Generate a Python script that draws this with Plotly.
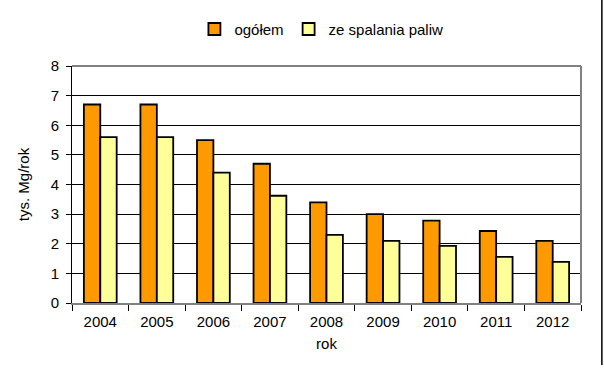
import plotly.graph_objects as go

years = ["2004", "2005", "2006", "2007", "2008", "2009", "2010", "2011", "2012"]
ogolem = [6.7, 6.7, 5.5, 4.7, 3.4, 3.0, 2.78, 2.43, 2.1]
spalanie = [5.6, 5.6, 4.4, 3.62, 2.3, 2.1, 1.93, 1.56, 1.39]
y_ticks = [0, 1, 2, 3, 4, 5, 6, 7, 8]

font = "Liberation Sans, Arial, sans-serif"

fig = go.Figure()
fig.add_trace(go.Bar(name="ogółem", x=years, y=ogolem,
                     marker=dict(color="#FF9900", line=dict(color="black", width=1.8))))
fig.add_trace(go.Bar(name="ze spalania paliw", x=years, y=spalanie,
                     marker=dict(color="#FFFF99", line=dict(color="black", width=1.8))))

fig.update_layout(
    width=604, height=370,
    margin=dict(l=72, r=23, t=66, b=67, autoexpand=False),
    paper_bgcolor="white", plot_bgcolor="white",
    barmode="group", bargap=0.42, bargroupgap=0,
    font=dict(family=font, size=15, color="black"),
    legend=dict(orientation="h", x=0.49, xanchor="center", y=1.155, yanchor="middle",
                font=dict(size=15), itemwidth=30, traceorder="normal"),
    showlegend=True,
)
fig.update_xaxes(
    showline=True, linecolor="#808080", linewidth=2,
    ticks="outside", tickcolor="black", ticklen=6,
    tickson="boundaries", mirror=False, automargin=False,
    ticklabelstandoff=4,
    title=dict(text="rok", font=dict(size=15), standoff=9),
    tickfont=dict(size=15),
)
fig.update_yaxes(
    range=[0, 8], tickvals=y_ticks,
    showgrid=True, gridcolor="black", gridwidth=1,
    showline=True, linecolor="black", linewidth=1,
    ticks="outside", tickcolor="black", ticklen=5, automargin=False,
    ticklabelstandoff=4,
    title=dict(text="tys. Mg/rok", font=dict(size=15), standoff=17),
    tickfont=dict(size=15),
)
# gray frame top and right
fig.add_shape(type="line", xref="paper", yref="paper", x0=0, x1=1, y0=1, y1=1,
              line=dict(color="#808080", width=2))
fig.add_shape(type="line", xref="paper", yref="paper", x0=1, x1=1, y0=0, y1=1,
              line=dict(color="#808080", width=2))
# outer chart border at right edge
fig.add_shape(type="line", xref="paper", yref="paper", x0=1.041, x1=1.041, y0=-0.262, y1=1.3,
              line=dict(color="black", width=1.5))

fig.write_html("out.html", post_script="document.body.style.margin='0';",
               config={"displayModeBar": False})
